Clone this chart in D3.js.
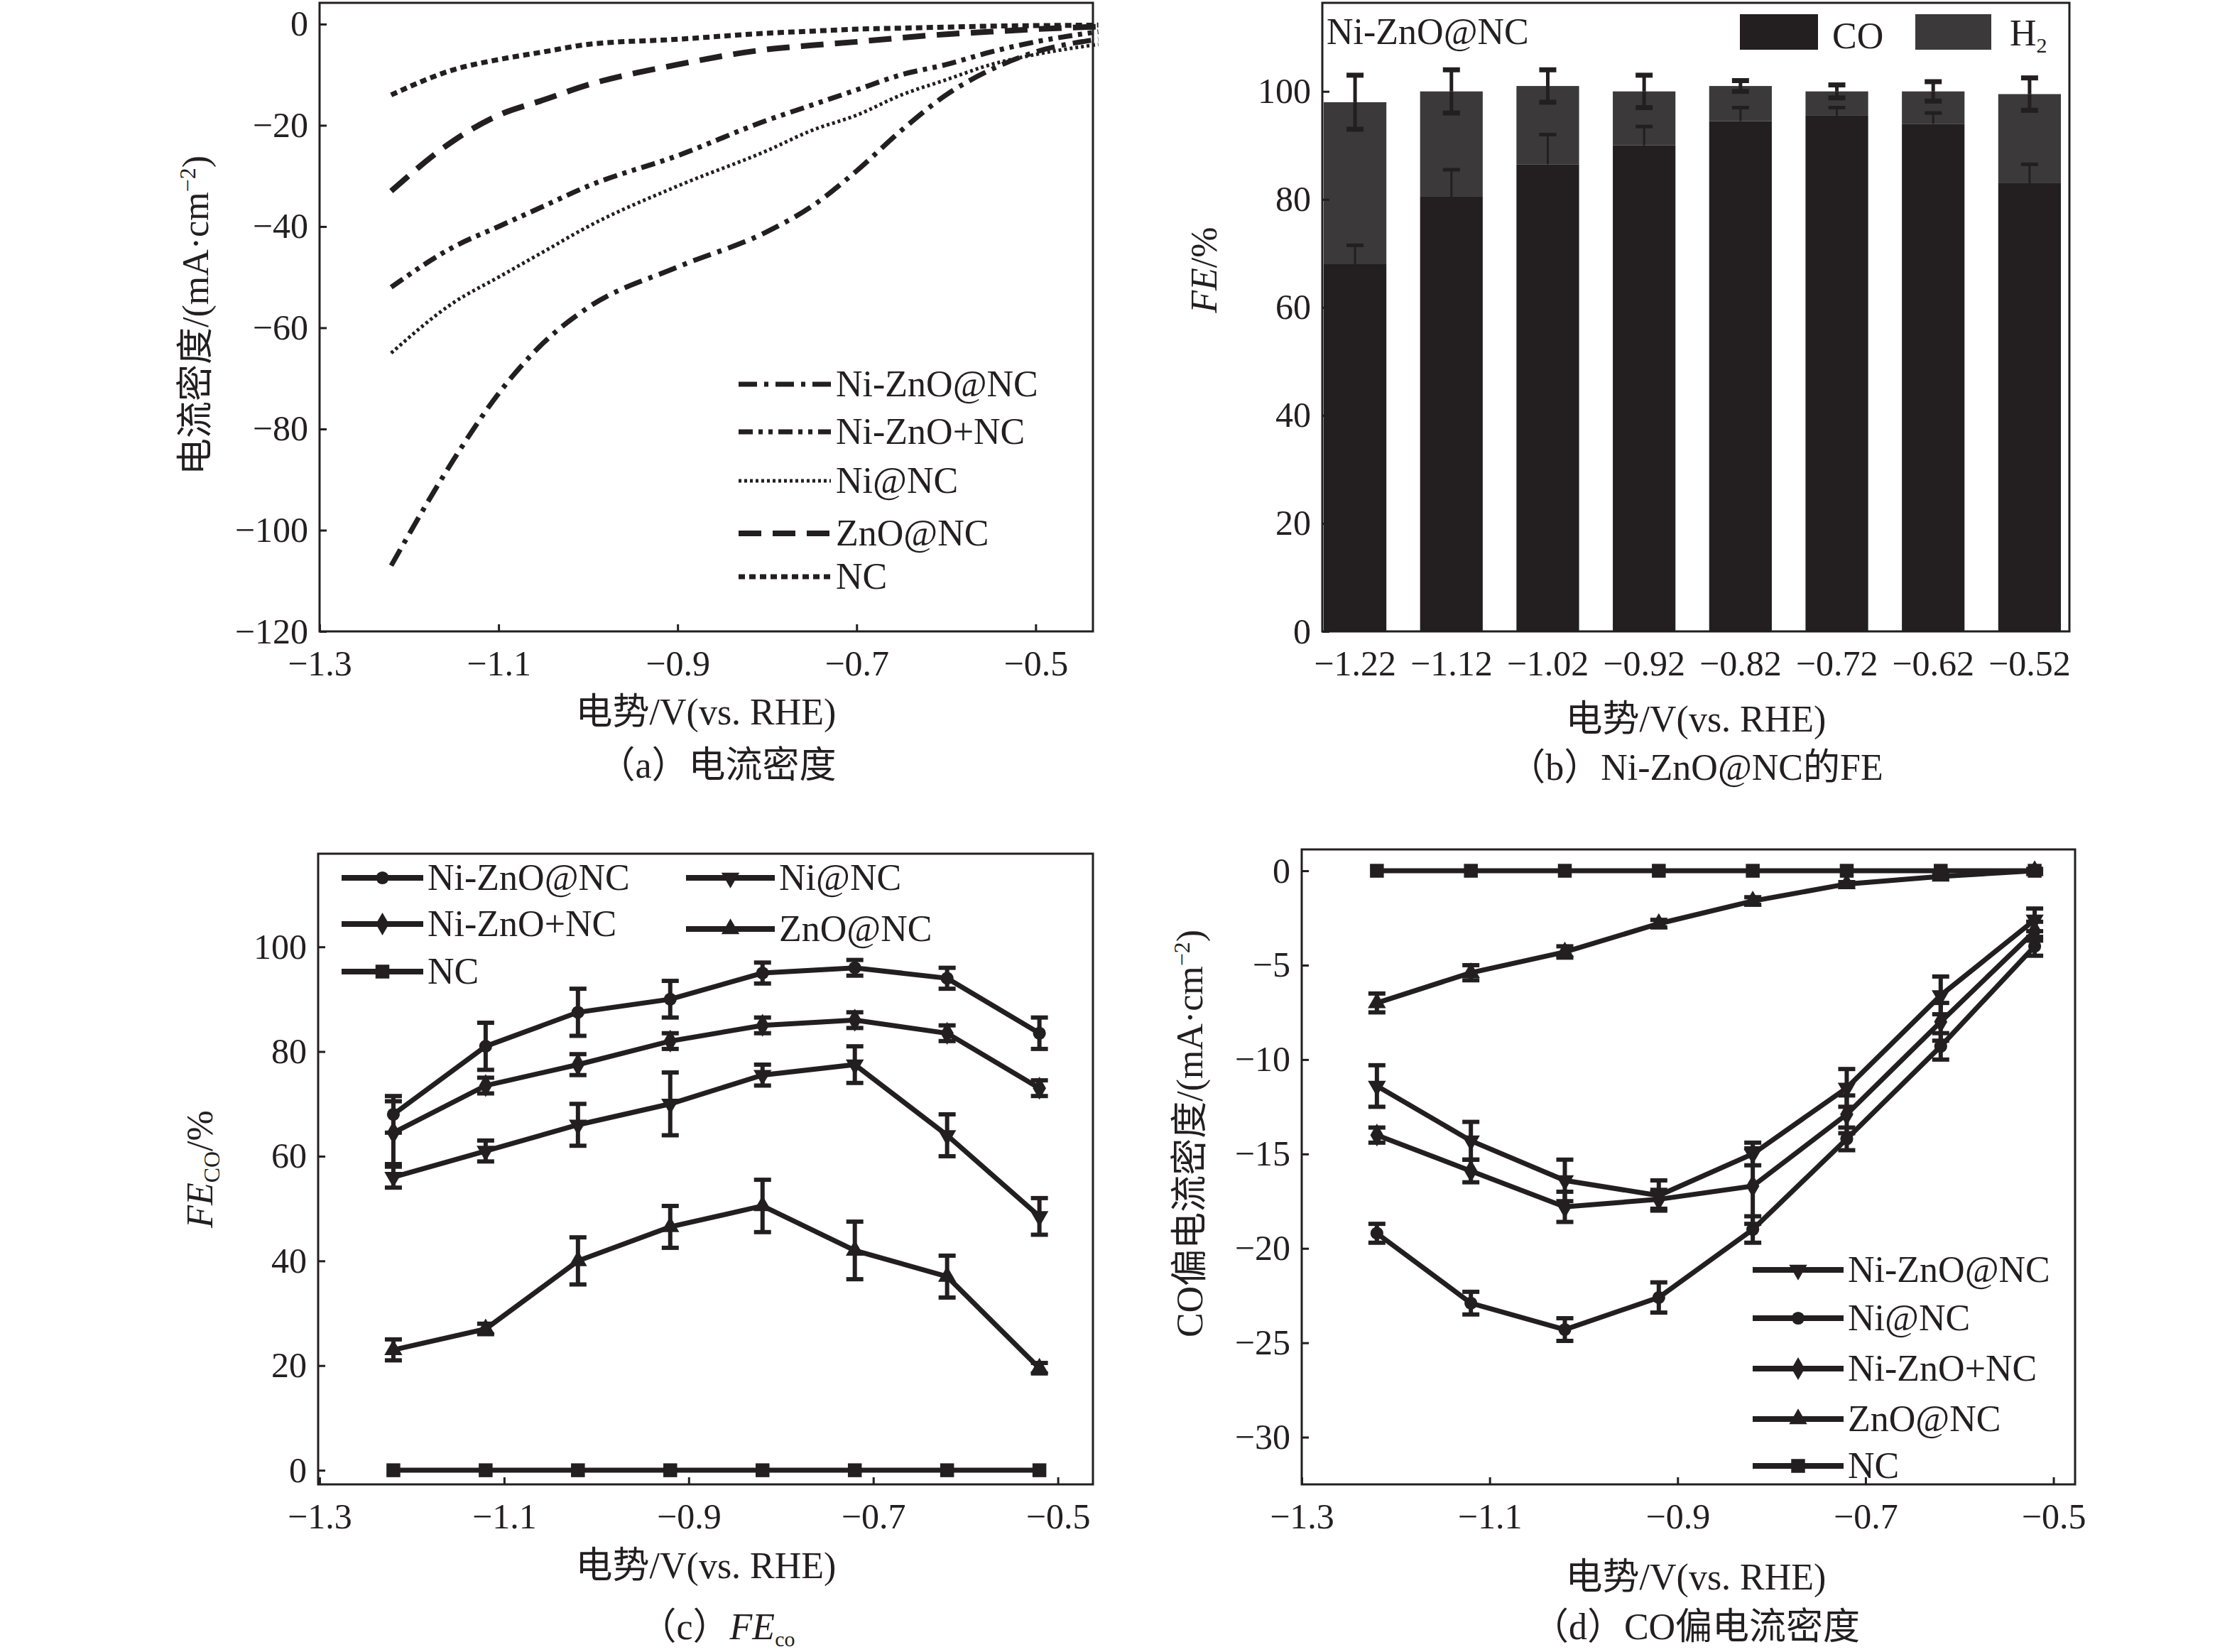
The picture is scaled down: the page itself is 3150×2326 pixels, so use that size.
<!DOCTYPE html>
<html><head><meta charset="utf-8">
<script src="https://cdn.jsdelivr.net/npm/d3@7"></script>
<style>
body{margin:0;background:#fff}
text{font-family:"Liberation Serif","Noto Sans CJK SC",serif;fill:#231f20}
</style></head>
<body><svg id="fig" width="3150" height="2326"></svg>
<script>
// ---- data (a) LSV curves
const lsvNames = ['Ni-ZnO@NC','Ni-ZnO+NC','Ni@NC','ZnO@NC','NC']
const lsvX = [-1.22,-1.15,-1.1,-1.05,-1.0,-0.9,-0.8,-0.75,-0.7,-0.65,-0.6,-0.55,-0.5,-0.43]
const lsvNiZnOatNC = [-107,-86,-73,-63,-56,-48,-41,-36,-29,-21,-14,-9,-5.5,-3]
const lsvNiZnOplusNC = [-52,-44,-40,-36,-32,-26,-19,-16,-13,-10,-8,-5.5,-3.5,-1.5]
const lsvNiNC = [-65,-55,-50,-45,-40,-32,-25,-21,-18,-14,-11,-8,-6,-4]
const lsvZnONC = [-33,-23,-18,-15,-12,-8,-5,-4.2,-3.5,-2.7,-2,-1.5,-1,-0.5]
const lsvNC = [-14,-9,-7,-5.5,-4,-3,-1.8,-1.4,-1,-0.8,-0.6,-0.4,-0.3,-0.2]
// ---- data (b) FE bars
const potLabels = ['−1.22','−1.12','−1.02','−0.92','−0.82','−0.72','−0.62','−0.52']
const potentials = [-1.22,-1.12,-1.02,-0.92,-0.82,-0.72,-0.62,-0.52]
const feCO = [68,80.5,86.5,90,94.5,95.5,94,83]
const feCOErr = [3.5,5,5.5,3.5,2.5,1.5,2,3.5]
const feTotal = [98,100,101,100,101,100,100,99.5]
const feTotalErr = [5,4,3,3,1,1.2,1.8,3]
// ---- data (c) FE_CO
const fcNiZnOatNC = [68,81,87.5,90,95,96,94,83.5]
const fcNiZnOatNCErr = [3.5,4.5,4.5,3.5,2,1.5,2,3]
const fcNiZnOplusNC = [64.5,73.5,77.5,82,85,86,83.5,73]
const fcNiZnOplusNCErr = [6,1.5,2,1.5,1.5,1.5,1.5,1.5]
const fcNiNC = [56,61,66,70,75.5,77.5,64,48.5]
const fcNiNCErr = [2,2,4,6,2,3.5,4,3.5]
const fcZnONC = [23,27,40,46.5,50.5,42,37,19.5]
const fcZnONCErr = [2,1,4.5,4,5,5.5,4,1]
const fcNC = [0,0,0,0,0,0,0,0]
// ---- data (d) CO partial current
const jNiZnOatNC = [-11.4,-14.3,-16.4,-17.2,-15,-11.5,-6.6,-2.6]
const jNiZnOatNCErr = [1.1,1,1.1,0.8,0.6,1,1,0.6]
const jNiNC = [-19.2,-22.9,-24.3,-22.6,-19,-14.2,-9.3,-4]
const jNiNCErr = [0.5,0.6,0.6,0.8,0.7,0.6,0.7,0.5]
const jNiZnOplusNC = [-14,-15.9,-17.8,-17.4,-16.7,-12.9,-8,-3.2]
const jNiZnOplusNCErr = [0.4,0.6,0.8,0.5,2,1,1,0.5]
const jZnONC = [-7,-5.4,-4.3,-2.8,-1.6,-0.7,-0.3,0]
const jZnONCErr = [0.5,0.4,0.3,0.2,0.2,0.1,0.1,0.1]
const jNC = [0,0,0,0,0,0,0,0]

const ink = '#231f20'
const svg = d3.select('#fig')

function frame(x0, x1, y0, y1) {
    svg.append('rect').attr('x', x0).attr('y', y0).attr('width', x1 - x0).attr('height', y1 - y0)
        .attr('fill', 'none').attr('stroke', ink).attr('stroke-width', 3)
}
function axes(xs, ys, x0, y1, xt, yt, xfmt, yfmt) {
    let xa = d3.axisBottom(xs).tickValues(xt).tickSize(-10).tickPadding(26).tickFormat(xfmt)
    let ya = d3.axisLeft(ys).tickValues(yt).tickSize(-10).tickPadding(16).tickFormat(yfmt)
    let gx = svg.append('g').attr('transform', `translate(0,${y1})`).call(xa)
    let gy = svg.append('g').attr('transform', `translate(${x0},0)`).call(ya)
    for (const g of [gx, gy]) {
        g.select('.domain').remove()
        g.selectAll('line').attr('stroke', ink).attr('stroke-width', 3)
        g.selectAll('text').style('font-size', '50px').attr('fill', ink)
    }
}
const minus = d => d3.format('.1f')(d).replace('-', '−')
const minusInt = d => String(d).replace('-', '−')
function label(x, y, txt, rot) {
    let t = svg.append('text').attr('text-anchor', 'middle').style('font-size', '52px')
        .attr('transform', `translate(${x},${y})` + (rot ? ' rotate(-90)' : ''))
    t.text(txt)
    return t
}

// ================= (a)
{
    const x0 = 450, x1 = 1539, y0 = 4, y1 = 889
    const xs = d3.scaleLinear().domain([-1.3, -0.436]).range([x0, x1])
    const ys = d3.scaleLinear().domain([-120, 4.2]).range([y1, y0])
    const series = [lsvNiZnOatNC, lsvNiZnOplusNC, lsvNiNC, lsvZnONC, lsvNC]
    const dashes = ['26,10,6,10', '20,8,6,8,6,8', '4,4', '32,16', '9,6']
    const widths = [7, 7, 5, 8, 7]
    const line = d3.line().x((d, i) => xs(lsvX[i])).y(d => ys(d)).curve(d3.curveMonotoneX)
    series.forEach((s, k) => {
        svg.append('path').attr('d', line(s)).attr('fill', 'none').attr('stroke', ink)
            .attr('stroke-width', widths[k]).attr('stroke-dasharray', dashes[k])
    })
    frame(x0, x1, y0, y1)
    axes(xs, ys, x0, y1, [-1.3, -1.1, -0.9, -0.7, -0.5], d3.range(-120, 1, 20), minus, minusInt)
    const ly = [541, 608, 677, 751, 812]
    lsvNames.forEach((n, k) => {
        svg.append('line').attr('x1', 1040).attr('x2', 1170).attr('y1', ly[k]).attr('y2', ly[k])
            .attr('stroke', ink).attr('stroke-width', widths[k]).attr('stroke-dasharray', dashes[k])
        svg.append('text').attr('x', 1177).attr('y', ly[k] + 17).text(n).style('font-size', '52px')
    })
    label(994, 1020, '电势/V(vs. RHE)')
    label(1010, 1095, '（a）电流密度')
    const yl = label(293, 444, '', true)
    yl.append('tspan').text('电流密度/(mA·cm')
    yl.append('tspan').text('−2').attr('dy', -18).style('font-size', '32px')
    yl.append('tspan').text(')').attr('dy', 18)
}

// ================= (b)
{
    const x0 = 1862, x1 = 2914, y0 = 4, y1 = 889
    const xb = d3.scaleBand().domain(potLabels).range([1864, 2902]).paddingInner(0.35).paddingOuter(0)
    const ys = d3.scaleLinear().domain([0, 116.4]).range([y1, y0])
    const g = svg.append('g')
    potLabels.forEach((p, i) => {
        g.append('rect').attr('x', xb(p)).attr('width', xb.bandwidth())
            .attr('y', ys(feTotal[i])).attr('height', ys(feCO[i]) - ys(feTotal[i])).attr('fill', '#3b393a')
        g.append('rect').attr('x', xb(p)).attr('width', xb.bandwidth())
            .attr('y', ys(feCO[i])).attr('height', y1 - ys(feCO[i])).attr('fill', ink)
        const cx = xb(p) + xb.bandwidth() / 2
        const eb = [[feCO[i], feCOErr[i], 3], [feTotal[i], feTotalErr[i], 5]]
        eb.forEach(([v, e, w]) => {
            g.append('line').attr('x1', cx).attr('x2', cx).attr('y1', ys(v)).attr('y2', ys(v + e))
                .attr('stroke', ink).attr('stroke-width', w)
            g.append('line').attr('x1', cx - 12).attr('x2', cx + 12).attr('y1', ys(v + e)).attr('y2', ys(v + e))
                .attr('stroke', ink).attr('stroke-width', w + 2)
            if (w === 5) {
                g.append('line').attr('x1', cx).attr('x2', cx).attr('y1', ys(v)).attr('y2', ys(v - e))
                    .attr('stroke', ink).attr('stroke-width', w)
                g.append('line').attr('x1', cx - 12).attr('x2', cx + 12).attr('y1', ys(v - e)).attr('y2', ys(v - e))
                    .attr('stroke', ink).attr('stroke-width', w + 2)
            }
        })
    })
    frame(x0, x1, y0, y1)
    const ya = d3.axisLeft(ys).tickValues(d3.range(0, 101, 20)).tickSize(-10).tickPadding(16)
    const gy = svg.append('g').attr('transform', `translate(${x0},0)`).call(ya)
    const gx = svg.append('g').attr('transform', `translate(0,${y1})`).call(d3.axisBottom(xb).tickSize(0).tickPadding(26))
    for (const a of [gx, gy]) {
        a.select('.domain').remove()
        a.selectAll('line').attr('stroke', ink).attr('stroke-width', 3)
        a.selectAll('text').style('font-size', '50px').attr('fill', ink)
    }
    svg.append('text').attr('x', 1868).attr('y', 62).text('Ni-ZnO@NC').style('font-size', '52px')
    svg.append('rect').attr('x', 2450).attr('y', 20).attr('width', 110).attr('height', 50).attr('fill', ink)
    svg.append('text').attr('x', 2580).attr('y', 68).text('CO').style('font-size', '52px')
    svg.append('rect').attr('x', 2697).attr('y', 20).attr('width', 107).attr('height', 50).attr('fill', '#3b393a')
    const h2 = svg.append('text').attr('x', 2830).attr('y', 64).style('font-size', '52px')
    h2.append('tspan').text('H')
    h2.append('tspan').text('2').attr('dy', 10).style('font-size', '30px')
    label(2388, 1030, '电势/V(vs. RHE)')
    label(2388, 1098, '（b）Ni-ZnO@NC的FE')
    const yl = label(1713, 380, '', true)
    yl.append('tspan').text('FE').style('font-style', 'italic')
    yl.append('tspan').text('/%')
}

// marker symbols
const sym = {
    circle: d3.symbol(d3.symbolCircle, 260),
    diamond: d3.symbol(d3.symbolDiamond, 300),
    triDown: d3.symbol(d3.symbolTriangle, 280),
    triUp: d3.symbol(d3.symbolTriangle, 280),
    square: d3.symbol(d3.symbolSquare, 380)
}
function errSeries(xs, ys, vals, errs, shape, rotate) {
    const g = svg.append('g')
    const line = d3.line().x((d, i) => xs(potentials[i])).y(d => ys(d))
    g.append('path').attr('d', line(vals)).attr('fill', 'none').attr('stroke', ink).attr('stroke-width', 7)
    vals.forEach((v, i) => {
        const cx = xs(potentials[i])
        const e = errs ? errs[i] : 0
        if (e > 0) {
            g.append('line').attr('x1', cx).attr('x2', cx).attr('y1', ys(v - e)).attr('y2', ys(v + e))
                .attr('stroke', ink).attr('stroke-width', 6)
            for (const yy of [v - e, v + e])
                g.append('line').attr('x1', cx - 12).attr('x2', cx + 12).attr('y1', ys(yy)).attr('y2', ys(yy))
                    .attr('stroke', ink).attr('stroke-width', 6)
        }
        g.append('path').attr('d', sym[shape]())
            .attr('transform', `translate(${cx},${ys(v)})` + (rotate ? ' rotate(180)' : ''))
            .attr('fill', ink)
    })
}
function legendItem(x, y, txt, shape, rotate, w) {
    svg.append('line').attr('x1', x).attr('x2', x + w).attr('y1', y).attr('y2', y)
        .attr('stroke', ink).attr('stroke-width', 8)
    svg.append('path').attr('d', sym[shape]())
        .attr('transform', `translate(${x + w / 2},${y})` + (rotate ? ' rotate(180)' : '')).attr('fill', ink)
    svg.append('text').attr('x', x + w + 6).attr('y', y + 17).text(txt).style('font-size', '52px')
}

// ================= (c)
{
    const x0 = 448, x1 = 1539, y0 = 1202, y1 = 2090
    const xs = d3.scaleLinear().domain([-1.3015, -0.462]).range([x0, x1])
    const ys = d3.scaleLinear().domain([-2.7, 117.8]).range([y1, y0])
    errSeries(xs, ys, fcNC, null, 'square')
    errSeries(xs, ys, fcZnONC, fcZnONCErr, 'triUp')
    errSeries(xs, ys, fcNiNC, fcNiNCErr, 'triDown', true)
    errSeries(xs, ys, fcNiZnOplusNC, fcNiZnOplusNCErr, 'diamond')
    errSeries(xs, ys, fcNiZnOatNC, fcNiZnOatNCErr, 'circle')
    frame(x0, x1, y0, y1)
    axes(xs, ys, x0, y1, [-1.3, -1.1, -0.9, -0.7, -0.5], d3.range(0, 101, 20), minus, minusInt)
    legendItem(481, 1236, 'Ni-ZnO@NC', 'circle', false, 115)
    legendItem(481, 1301, 'Ni-ZnO+NC', 'diamond', false, 115)
    legendItem(481, 1368, 'NC', 'square', false, 115)
    legendItem(966, 1236, 'Ni@NC', 'triDown', true, 125)
    legendItem(966, 1308, 'ZnO@NC', 'triUp', false, 125)
    label(994, 2222, '电势/V(vs. RHE)')
    const cap = label(1010, 2308, '（c）')
    cap.append('tspan').text('FE').style('font-style', 'italic')
    cap.append('tspan').text('co').attr('dy', 10).style('font-size', '30px')
    const yl = label(299, 1646, '', true)
    yl.append('tspan').text('FE').style('font-style', 'italic')
    yl.append('tspan').text('CO').attr('dy', 10).style('font-size', '32px')
    yl.append('tspan').text('/%').attr('dy', -10)
}

// ================= (d)
{
    const x0 = 1833, x1 = 2922, y0 = 1196, y1 = 2090
    const xs = d3.scaleLinear().domain([-1.3, -0.477]).range([x0, x1])
    const ys = d3.scaleLinear().domain([-32.5, 1.13]).range([y1, y0])
    errSeries(xs, ys, jNC, null, 'square')
    errSeries(xs, ys, jZnONC, jZnONCErr, 'triUp')
    errSeries(xs, ys, jNiNC, jNiNCErr, 'circle')
    errSeries(xs, ys, jNiZnOplusNC, jNiZnOplusNCErr, 'diamond')
    errSeries(xs, ys, jNiZnOatNC, jNiZnOatNCErr, 'triDown', true)
    frame(x0, x1, y0, y1)
    axes(xs, ys, x0, y1, [-1.3, -1.1, -0.9, -0.7, -0.5], d3.range(-30, 1, 5), minus, minusInt)
    const names = ['Ni-ZnO@NC', 'Ni@NC', 'Ni-ZnO+NC', 'ZnO@NC', 'NC']
    const shapes = ['triDown', 'circle', 'diamond', 'triUp', 'square']
    const rows = [1788, 1856, 1927, 1998, 2064]
    names.forEach((n, k) => legendItem(2468, rows[k], n, shapes[k], k === 0, 128))
    label(2388, 2238, '电势/V(vs. RHE)')
    label(2388, 2308, '（d）CO偏电流密度')
    const yl = label(1693, 1596, '', true)
    yl.append('tspan').text('CO偏电流密度/(mA·cm')
    yl.append('tspan').text('−2').attr('dy', -18).style('font-size', '32px')
    yl.append('tspan').text(')').attr('dy', 18)
}
</script></body></html>
